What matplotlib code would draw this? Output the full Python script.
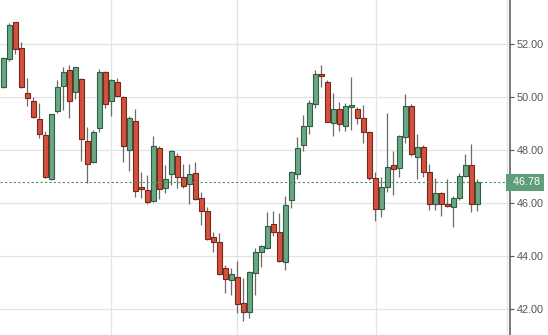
# Candlestick chart, daily prices
import numpy as np
import matplotlib.pyplot as plt
import matplotlib.transforms as mtransforms

# OHLC values (80 sessions)
opens = [50.39, 51.43, 52.82, 51.84, 50.14, 49.85, 49.17, 48.55, 46.89, 49.47,
         50.43, 51.02, 50.18, 50.68, 48.34, 47.56, 48.82, 50.93, 49.86, 50.55,
         50.00, 47.99, 49.09, 46.60, 46.49, 46.08, 48.06, 46.55, 47.08, 47.77,
         46.97, 46.71, 47.12, 46.18, 45.70, 44.73, 44.52, 43.54, 43.09, 43.20,
         42.21, 41.90, 43.35, 44.14, 44.31, 45.20, 44.89, 43.76, 46.12, 47.08,
         48.19, 48.91, 49.72, 50.86, 50.55, 49.01, 49.54, 48.92, 49.64, 49.55,
         49.20, 48.67, 46.93, 45.76, 46.59, 47.42, 47.31, 48.50, 49.67, 47.75,
         48.12, 47.16, 45.95, 46.37, 45.96, 45.86, 46.18, 47.02, 47.43, 45.95]
highs = [51.50, 52.78, 52.84, 52.06, 50.73, 49.99, 49.76, 48.73, 49.37, 50.63,
         51.12, 51.21, 51.14, 50.70, 48.88, 48.75, 51.06, 50.97, 50.68, 50.71,
         50.02, 49.28, 49.55, 47.16, 47.06, 48.53, 48.15, 47.43, 48.00, 47.88,
         47.47, 47.47, 47.56, 46.43, 45.86, 44.89, 44.86, 43.66, 43.54, 43.82,
         43.16, 43.43, 44.29, 44.42, 45.66, 45.70, 45.62, 46.26, 47.21, 48.48,
         49.32, 49.89, 51.02, 51.21, 50.64, 50.14, 49.82, 49.76, 50.74, 49.63,
         49.70, 48.70, 47.18, 46.97, 49.38, 47.97, 48.55, 50.11, 49.74, 48.59,
         48.19, 47.46, 46.95, 46.42, 46.89, 46.26, 47.12, 47.84, 48.22, 46.91]
lows = [50.34, 51.37, 51.61, 50.35, 49.67, 49.20, 48.44, 46.94, 46.86, 49.38,
        49.51, 49.22, 49.91, 47.60, 46.74, 47.52, 48.67, 49.60, 49.28, 50.00,
        47.56, 47.21, 46.21, 46.20, 45.95, 46.03, 46.14, 46.39, 46.68, 46.55,
        46.58, 45.95, 46.10, 45.17, 44.60, 44.16, 43.28, 42.59, 42.53, 41.86,
        41.55, 41.65, 42.53, 43.57, 44.26, 44.75, 43.77, 43.48, 45.80, 46.89,
        47.96, 48.60, 49.57, 50.39, 49.05, 48.53, 48.73, 48.72, 48.75, 48.98,
        48.28, 46.85, 45.32, 45.46, 46.43, 46.30, 46.99, 48.25, 47.77, 46.91,
        46.99, 45.74, 45.74, 45.52, 45.85, 45.11, 46.11, 46.98, 45.67, 45.70]
closes = [51.46, 52.72, 51.80, 50.37, 49.97, 49.23, 48.59, 46.97, 49.35, 50.37,
          50.93, 49.84, 51.12, 48.40, 47.47, 48.69, 50.93, 49.72, 50.64, 50.03,
          48.14, 49.20, 46.45, 46.52, 46.03, 48.15, 46.52, 46.91, 47.96, 46.97,
          46.65, 47.08, 46.14, 45.70, 44.63, 44.52, 43.31, 43.12, 43.31, 42.18,
          41.90, 43.38, 44.14, 44.38, 45.13, 44.92, 43.80, 45.92, 47.16, 48.06,
          48.91, 49.76, 50.86, 50.79, 49.07, 49.54, 48.97, 49.66, 49.68, 49.20,
          48.67, 46.93, 45.76, 46.59, 47.37, 47.29, 48.51, 49.67, 47.84, 48.12,
          47.16, 45.95, 46.37, 45.95, 45.88, 46.18, 47.02, 47.43, 45.95, 46.78]

last_price = 46.78
y_ticks = [42, 44, 46, 48, 50, 52]
month_lines = [17.9, 38.9, 62.1, 84.0]  # vertical grid (month boundaries)

up_fill, up_edge = "#6aa784", "#2e5e43"
dn_fill, dn_edge = "#d4513e", "#7a2618"

plt.rcParams["font.family"] = ["Liberation Sans", "DejaVu Sans"]

o = np.array(opens)
c = np.array(closes)
x = np.arange(len(o))
up = c >= o

fig = plt.figure(figsize=(5.48, 3.35), dpi=100)
ax = fig.add_axes([0, 0, 510 / 548, 1])

# grid
for v in y_ticks:
    ax.axhline(v, color="#e3e3e3", lw=0.9, zorder=0)
for m in month_lines:
    ax.axvline(m, color="#e3e3e3", lw=0.9, zorder=0)

# wicks and bodies
ax.vlines(x, lows, highs, color="#6b6b6b", lw=0.9, zorder=1)
body_h = np.maximum(np.abs(c - o), 0.04)
ax.bar(x[up], body_h[up], bottom=o[up], width=0.72,
       color=up_fill, edgecolor=up_edge, lw=0.8, zorder=2)
ax.bar(x[~up], body_h[~up], bottom=c[~up], width=0.72,
       color=dn_fill, edgecolor=dn_edge, lw=0.8, zorder=2)

# last price line
ax.axhline(last_price, color="#4e8c6c", lw=0.8, ls=(0, (2, 2)), zorder=3)

ax.set_xlim(-0.583, 84.42)
ax.set_ylim(41.02, 53.66)

for s in ["top", "left", "bottom"]:
    ax.spines[s].set_visible(False)
ax.spines["right"].set_color("#555555")
ax.spines["right"].set_linewidth(1.1)
ax.set_xticks([])
ax.yaxis.tick_right()
ax.set_yticks(y_ticks)
ax.set_yticklabels(["%.2f" % v for v in y_ticks])
ax.tick_params(axis="y", direction="out", length=3, width=0.8, color="#555555",
               labelsize=7.8, labelcolor="#555555", pad=2)

# price tag on the axis
trans = mtransforms.blended_transform_factory(ax.transAxes, ax.transData)
ax.text(1.0, last_price, " 46.78", transform=trans, ha="left", va="center",
        fontsize=7.8, color="white", clip_on=False, zorder=5,
        bbox=dict(boxstyle="square,pad=0.35", fc="#5f9e7b", ec="none"))

fig.savefig("out.png", dpi=100)
